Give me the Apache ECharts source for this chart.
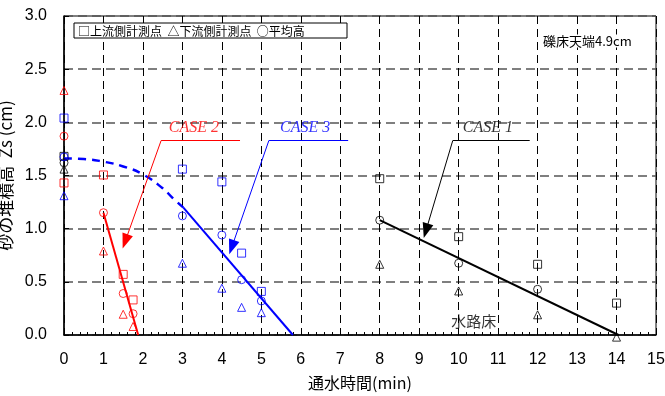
<!DOCTYPE html>
<html><head><meta charset="utf-8">
<script src="https://cdn.jsdelivr.net/npm/echarts@6/dist/echarts.min.js"></script>
<style>html,body{margin:0;padding:0;background:#fff}#c{width:665px;height:396px}</style>
</head><body><div id="c"></div>
<script>
// ---- data ----
const xTicks = [0,1,2,3,4,5,6,7,8,9,10,11,12,13,14,15];
const yTicks = [0,0.5,1,1.5,2,2.5,3];

const case1Time = [0, 8, 10, 12, 14];
const case1Up   = [1.68, 1.47, 0.925, 0.665, 0.30];
const case1Down = [1.56, 0.665, 0.414, 0.19, -0.02];
const case1Avg  = [1.62, 1.08, 0.675, 0.43, null];

const case2Time = [0, 1, 1.5, 1.75];
const case2Up   = [1.43, 1.505, 0.57, 0.33];
const case2Down = [2.30, 0.79, 0.195, 0.08];
const case2Avg  = [1.87, 1.15, 0.39, 0.20];

const case3Time = [0, 3, 4, 4.5, 5];
const case3Up   = [2.04, 1.56, 1.44, 0.77, 0.41];
const case3Down = [1.31, 0.675, 0.44, 0.26, 0.21];
const case3Avg  = [1.675, 1.12, 0.94, 0.52, 0.32];

const case1LineX = [8, 14.05], case1LineY = [1.08, 0];
const case2LineX = [1, 1.88],  case2LineY = [1.15, 0];
const case3LineX = [3.02, 5.8], case3LineY = [1.2, 0];
const case3CurveX = [0, 0.5, 1, 1.5, 2, 2.5, 2.75, 3.02];
const case3CurveY = [1.66, 1.655, 1.63, 1.585, 1.51, 1.38, 1.29, 1.2];

const caseLabels = ['CASE 1', 'CASE 2', 'CASE 3'];
const caseLabelX = [10.74, 3.29, 6.11];
const caseLabelY = [1.95, 1.95, 1.95];
const leaderStartX = [9.85, 2.46, 5.19];
const leaderEndX   = [11.80, 4.46, 7.20];
const leaderY      = [1.828, 1.828, 1.828];
const arrowTipX    = [9.17, 1.55, 4.25];
const arrowTipY    = [0.98, 0.88, 0.825];
const caseColors   = ['#000000', '#ff0000', '#0000ff'];

const legendText = '□上流側計測点  △下流側計測点  ○平均高';
const noteText = '礫床天端4.9cm';
const bedText = '水路床'; const bedX = 10.38, bedY = 0.125;

// ---- build ----
const zip = (xs, ys) => xs.map((x,i) => ys[i] == null ? null : [x, ys[i]]).filter(d => d);
function pts(name, time, vals, symbol, color, size) {
  return { type:'scatter', name, data: zip(time, vals), symbol, symbolSize: size,
    clip:false, itemStyle:{ color:'transparent', borderColor: color, borderWidth:1 }, z:5 };
}
function line(xs, ys, color, width, dash, smooth) {
  return { type:'line', data: zip(xs, ys), showSymbol:false, symbol:'none', smooth: !!smooth,
    clip:false, lineStyle:{ color, width, type: dash || 'solid' }, z:4 };
}
const series = [];
const cases = [
  [case1Time, case1Up, case1Down, case1Avg, caseColors[0]],
  [case2Time, case2Up, case2Down, case2Avg, caseColors[1]],
  [case3Time, case3Up, case3Down, case3Avg, caseColors[2]],
];
series.push(line(case1LineX, case1LineY, caseColors[0], 2));
series.push(line(case2LineX, case2LineY, caseColors[1], 2));
series.push(line(case3LineX, case3LineY, caseColors[2], 2));
series.push(line(case3CurveX, case3CurveY, caseColors[2], 2.5, [8,6], true));
cases.forEach(([t, up, dn, av, c]) => {
  series.push(pts('up', t, up, 'rect', c, 8));
  series.push(pts('down', t, dn, 'triangle', c, 8));
  series.push(pts('avg', t, av, 'circle', c, 8));
});
// annotations
caseLabels.forEach((lab, i) => {
  const c = caseColors[i];
  series.push({
    type:'scatter', data:[[caseLabelX[i], caseLabelY[i]]], symbolSize:1, clip:false,
    itemStyle:{color:'transparent'},
    label:{ show:true, position:'inside', formatter: lab, color:c, fontFamily:'Liberation Serif',
      fontStyle:'italic', fontSize:16 },
    markLine:{ silent:true, animation:false, label:{show:false},
      lineStyle:{ color:c, width:1, type:'solid' },
      data:[
        [{coord:[leaderStartX[i], leaderY[i]], symbol:'none'}, {coord:[leaderEndX[i], leaderY[i]], symbol:'none'}],
        [{coord:[leaderStartX[i], leaderY[i]], symbol:'none'}, {coord:[arrowTipX[i], arrowTipY[i]], symbol:'triangle', symbolSize:[11,15]}]
      ],
      itemStyle:{color:c}
    }
  });
});
series.push({
  type:'scatter', data:[[bedX, bedY]], symbolSize:1, itemStyle:{color:'transparent'},
  label:{show:true, position:'inside', formatter: bedText, color:'#000', fontSize:15,
    fontFamily:'Noto Sans CJK JP'}
});

const chart = echarts.init(document.getElementById('c'), null, {renderer:'canvas'});
chart.setOption({
  animation:false,
  grid:{ left:64, right:9, top:16, bottom:61, show:true, borderColor:'#000', borderWidth:1,
    containLabel:false, outerBoundsMode:'none' },
  xAxis:{ type:'value', min:xTicks[0], max:xTicks[xTicks.length-1], interval:1,
    name:'通水時間(min)', nameLocation:'middle', nameGap:40,
    nameTextStyle:{ fontSize:16, color:'#000', fontFamily:'Noto Sans CJK JP' },
    axisLine:{ lineStyle:{color:'#000', width:1.5} },
    axisTick:{ inside:true, length:6, lineStyle:{color:'#000'} },
    minorTick:{ show:true, splitNumber:5, length:3, lineStyle:{color:'#000'} },
    axisLabel:{ color:'#000', fontSize:16, margin:17, fontFamily:'Liberation Sans' },
    splitLine:{ show:true, lineStyle:{ color:'#000', type:[8,5], width:1 } }
  },
  yAxis:{ type:'value', min:yTicks[0], max:yTicks[yTicks.length-1], interval:0.5,
    name:'砂の堆積高  Zs (cm)', nameLocation:'middle', nameGap:39,
    nameTextStyle:{ fontSize:17, color:'#000', fontFamily:'Noto Sans CJK JP' },
    axisLine:{ show:true, lineStyle:{color:'#000', width:1.5} },
    axisTick:{ inside:true, length:5, lineStyle:{color:'#000'} },
    axisLabel:{ color:'#000', fontSize:16, margin:17, fontFamily:'Liberation Sans',
      formatter: v => v.toFixed(1) },
    splitLine:{ show:true, lineStyle:{ color:'#555', type:[9,5], width:1.5 } }
  },
  graphic:[
    { type:'rect', shape:{x:74, y:23, width:273, height:15}, style:{fill:'#fff', stroke:'#000', lineWidth:1}, z:10 },
    { type:'text', x:78, y:31, style:{ text: legendText, fontSize:12, fill:'#000', verticalAlign:'middle',
      fontFamily:'Noto Sans CJK JP' }, z:11 },
    { type:'text', x:543, y:41, style:{ text: noteText, fontSize:13, fill:'#000', verticalAlign:'middle',
      fontFamily:'Noto Sans CJK JP', backgroundColor:'#fff' }, z:11 }
  ],
  series
});
</script></body></html>
